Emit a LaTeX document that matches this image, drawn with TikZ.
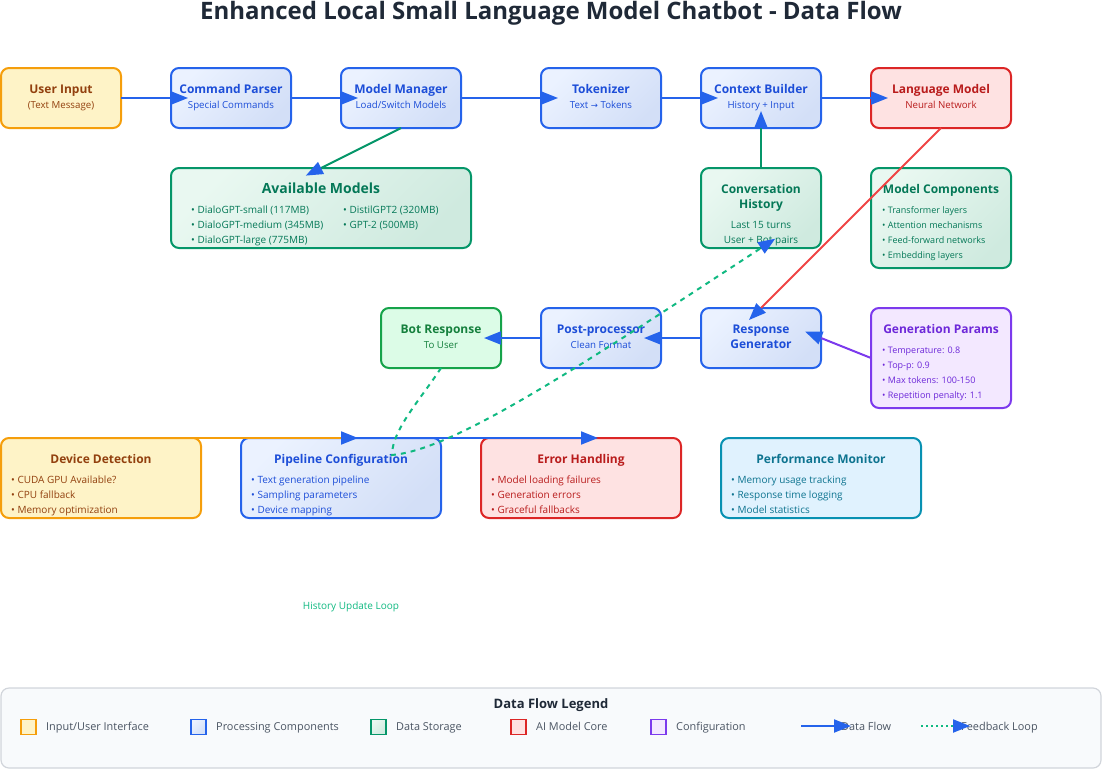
\documentclass[tikz,border=0pt]{standalone}
\usepackage{fontspec}
\setmainfont{Open Sans}
\newfontfamily\symf{DejaVu Sans}
\usetikzlibrary{arrows.meta,calc}
\definecolor{titlec}{HTML}{1F2937}
\definecolor{arrowblue}{HTML}{2563EB}
\definecolor{procS}{HTML}{2563EB}
\definecolor{procA}{HTML}{EBF2FF}
\definecolor{procB}{HTML}{D3DFF7}
\definecolor{procT}{HTML}{1D4ED8}
\definecolor{inS}{HTML}{F59E0B}
\definecolor{inF}{HTML}{FEF3C7}
\definecolor{inT}{HTML}{92400E}
\definecolor{aiS}{HTML}{DC2626}
\definecolor{aiL}{HTML}{EF4444}
\definecolor{aiF}{HTML}{FEE2E2}
\definecolor{aiT}{HTML}{B91C1C}
\definecolor{stS}{HTML}{059669}
\definecolor{stA}{HTML}{E9F8F1}
\definecolor{stB}{HTML}{CFEADF}
\definecolor{stT}{HTML}{047857}
\definecolor{outS}{HTML}{16A34A}
\definecolor{outF}{HTML}{DCFCE7}
\definecolor{outT}{HTML}{15803D}
\definecolor{cfS}{HTML}{7C3AED}
\definecolor{cfF}{HTML}{F3E8FF}
\definecolor{cfT}{HTML}{6D28D9}
\definecolor{pmS}{HTML}{0891B2}
\definecolor{pmF}{HTML}{E0F2FE}
\definecolor{pmT}{HTML}{0E7490}
\definecolor{fbC}{HTML}{10B981}
\definecolor{lgF}{HTML}{F8FAFC}
\definecolor{lgS}{HTML}{D1D5DB}
\definecolor{lgT}{HTML}{4B5563}
\newcommand{\myfs}[1]{\fontsize{#1}{#1}\selectfont}
\begin{document}
\begin{tikzpicture}[x=1pt,y=-1pt,
  box/.style={draw, rounded corners=8pt, line width=2pt, outer sep=0pt, inner sep=0pt},
  procbox/.style={box, draw=procS, top color=procA, bottom color=procB, shading angle=45},
  inbox/.style={box, draw=inS, fill=inF},
  aibox/.style={box, draw=aiS, fill=aiF},
  stbox/.style={box, draw=stS, top color=stA, bottom color=stB, shading angle=45},
  outbox/.style={box, draw=outS, fill=outF},
  cfbox/.style={box, draw=cfS, fill=cfF},
  pmbox/.style={box, draw=pmS, fill=pmF},
  ttl/.style={anchor=base, inner sep=0pt, font=\myfs{12}\bfseries},
  sub/.style={anchor=base, inner sep=0pt, font=\myfs{9.7}},
  bul/.style={anchor=base west, inner sep=0pt, font=\myfs{10}},
  sbul/.style={anchor=base west, inner sep=0pt, font=\myfs{9}},
  flow/.style={draw=arrowblue, line width=2pt, -{Triangle[length=17pt,width=13pt,color=arrowblue]}},
  fback/.style={draw=fbC, line width=2pt, dash pattern=on 5pt off 5pt, -{Triangle[length=17pt,width=13pt,color=arrowblue]}},
  lgsq/.style={draw, line width=1.2pt, minimum width=15, minimum height=15, inner sep=0pt, outer sep=0pt},
  lgtx/.style={anchor=base west, inner sep=0pt, font=\myfs{10.9}, text=lgT}
]
\useasboundingbox (0,0) rectangle (1102,769);

% title
\node[anchor=base, inner sep=0pt, font=\myfs{24}\bfseries, text=titlec] (title) at (551,19) {Enhanced Local Small Language Model Chatbot - Data Flow};

% top row
\node[inbox, minimum width=120, minimum height=60] (ui) at (61,98) {};
\node[ttl, text=inT] (ui-t) at (61,93) {User Input};
\node[sub, text=inT] (ui-s) at (61,108) {(Text Message)};

\node[procbox, minimum width=120, minimum height=60] (cp) at (231,98) {};
\node[ttl, text=procT] (cp-t) at (231,93) {Command Parser};
\node[sub, text=procT] (cp-s) at (231,108) {Special Commands};

\node[procbox, minimum width=120, minimum height=60] (mm) at (401,98) {};
\node[ttl, text=procT] (mm-t) at (401,93) {Model Manager};
\node[sub, text=procT] (mm-s) at (401,108) {Load/Switch Models};

\node[procbox, minimum width=120, minimum height=60] (tk) at (601,98) {};
\node[ttl, text=procT] (tk-t) at (601,93) {Tokenizer};
\node[sub, text=procT] (tk-s) at (601,108) {Text {\symf\myfs{8.5}→} Tokens};

\node[procbox, minimum width=120, minimum height=60] (cb) at (761,98) {};
\node[ttl, text=procT] (cb-t) at (761,93) {Context Builder};
\node[sub, text=procT] (cb-s) at (761,108) {History + Input};

\node[aibox, minimum width=140, minimum height=60] (lm) at (941,98) {};
\node[ttl, text=aiT] (lm-t) at (941,93) {Language Model};
\node[sub, text=aiT] (lm-s) at (941,108) {Neural Network};

% second row
\node[stbox, minimum width=300, minimum height=80] (am) at (321,208) {};
\node[ttl, font=\myfs{14}\bfseries, text=stT] (am-t) at (321,193) {Available Models};
\node[bul, text=stT] (am-1) at (191,213) {• DialoGPT-small (117MB)};
\node[bul, text=stT] (am-2) at (191,228) {• DialoGPT-medium (345MB)};
\node[bul, text=stT] (am-3) at (191,243) {• DialoGPT-large (775MB)};
\node[bul, text=stT] (am-4) at (343,213) {• DistilGPT2 (320MB)};
\node[bul, text=stT] (am-5) at (343,228) {• GPT-2 (500MB)};

\node[stbox, minimum width=120, minimum height=80] (ch) at (761,208) {};
\node[ttl, text=stT] (ch-t1) at (761,193) {Conversation};
\node[ttl, text=stT] (ch-t2) at (761,208) {History};
\node[sub, font=\myfs{10}, text=stT] (ch-s1) at (761,228) {Last 15 turns};
\node[sub, font=\myfs{10}, text=stT] (ch-s2) at (761,243) {User + Bot pairs};

\node[stbox, minimum width=140, minimum height=100] (mc) at (941,218) {};
\node[ttl, text=stT] (mc-t) at (941,193) {Model Components};
\node[sbul, text=stT] (mc-1) at (882,213) {• Transformer layers};
\node[sbul, text=stT] (mc-2) at (882,228) {• Attention mechanisms};
\node[sbul, text=stT] (mc-3) at (882,243) {• Feed-forward networks};
\node[sbul, text=stT] (mc-4) at (882,258) {• Embedding layers};

% third row
\node[outbox, minimum width=120, minimum height=60] (br) at (441,338) {};
\node[ttl, text=outT] (br-t) at (441,333) {Bot Response};
\node[sub, text=outT] (br-s) at (441,348) {To User};

\node[procbox, minimum width=120, minimum height=60] (pp) at (601,338) {};
\node[ttl, text=procT] (pp-t) at (601,333) {Post-processor};
\node[sub, text=procT] (pp-s) at (601,348) {Clean Format};

\node[procbox, minimum width=120, minimum height=60] (rg) at (761,338) {};
\node[ttl, text=procT] (rg-t1) at (761,333) {Response};
\node[ttl, text=procT] (rg-t2) at (761,348) {Generator};

\node[cfbox, minimum width=140, minimum height=100] (gp) at (941,358) {};
\node[ttl, text=cfT] (gp-t) at (941,333) {Generation Params};
\node[sbul, text=cfT] (gp-1) at (882,353) {• Temperature: 0.8};
\node[sbul, text=cfT] (gp-2) at (882,368) {• Top-p: 0.9};
\node[sbul, text=cfT] (gp-3) at (882,383) {• Max tokens: 100-150};
\node[sbul, text=cfT] (gp-4) at (882,398) {• Repetition penalty: 1.1};

% bottom row
\node[inbox, minimum width=200, minimum height=80] (dd) at (101,478) {};
\node[ttl, text=inT] (dd-t) at (101,463) {Device Detection};
\node[bul, text=inT] (dd-1) at (11,483) {• CUDA GPU Available?};
\node[bul, text=inT] (dd-2) at (11,498) {• CPU fallback};
\node[bul, text=inT] (dd-3) at (11,513) {• Memory optimization};

\node[procbox, minimum width=200, minimum height=80] (pc) at (341,478) {};
\node[ttl, text=procT] (pc-t) at (341,463) {Pipeline Configuration};
\node[bul, text=procT] (pc-1) at (251,483) {• Text generation pipeline};
\node[bul, text=procT] (pc-2) at (251,498) {• Sampling parameters};
\node[bul, text=procT] (pc-3) at (251,513) {• Device mapping};

\node[aibox, minimum width=200, minimum height=80] (eh) at (581,478) {};
\node[ttl, text=aiT] (eh-t) at (581,463) {Error Handling};
\node[bul, text=aiT] (eh-1) at (491,483) {• Model loading failures};
\node[bul, text=aiT] (eh-2) at (491,498) {• Generation errors};
\node[bul, text=aiT] (eh-3) at (491,513) {• Graceful fallbacks};

\node[pmbox, minimum width=200, minimum height=80] (pm) at (821,478) {};
\node[ttl, text=pmT] (pm-t) at (821,463) {Performance Monitor};
\node[bul, text=pmT] (pm-1) at (731,483) {• Memory usage tracking};
\node[bul, text=pmT] (pm-2) at (731,498) {• Response time logging};
\node[bul, text=pmT] (pm-3) at (731,513) {• Model statistics};

% loop label
\node[anchor=base, inner sep=0pt, font=\myfs{10}, text=fbC] (hul) at (351,609) {History Update Loop};

% connectors
\draw[flow] (ui.east) -- ([xshift=17pt]cp.west);
\draw[flow] (cp.east) -- ([xshift=17pt]mm.west);
\draw[flow] (mm.east) -- ([xshift=17pt]tk.west);
\draw[flow] (tk.east) -- ([xshift=17pt]cb.west);
\draw[flow] (cb.east) -- ([xshift=17pt]lm.west);
\draw[flow, draw=stS] (mm.south) -- ($(am.north)!-17pt!(mm.south)$);
\draw[flow, draw=stS] (ch.north) -- ([yshift=17pt]cb.south);
\draw[flow, draw=aiL] (lm.south) -- ($(rg.north)!-17pt!(lm.south)$);
\draw[flow, draw=cfS] (gp.west) -- ($(rg.east)!-17pt!(gp.west)$);
\draw[flow] (rg.west) -- ([xshift=-17pt]pp.east);
\draw[flow] (pp.west) -- ([xshift=-17pt]br.east);
\draw[flow, draw=inS] (dd.north) -- ([xshift=17pt]pc.north);
\draw[flow] (pc.north) -- ([xshift=17pt]eh.north);
\coordinate (fbturn) at (392,455);
\coordinate (fbc) at (560,380);
\draw[fback] (br.south) .. controls (420,400) and (392,430) .. (fbturn)
   .. controls (450,450) and (fbc) .. (ch.south) -- ($(ch.south)!-17pt!(fbc)$);

% legend
\node[draw=lgS, fill=lgF, line width=1.2pt, rounded corners=8pt, minimum width=1100, minimum height=80, inner sep=0pt, outer sep=0pt] (lg) at (551,728) {};
\node[anchor=base, inner sep=0pt, font=\myfs{13}\bfseries, text=titlec] (lg-t) at (551,708) {Data Flow Legend};
\node[lgsq, draw=inS, fill=inF] (lg-s1) at (28.5,727) {};
\node[lgtx] (lg-x1) at (46,730.5) {Input/User Interface};
\node[lgsq, draw=procS, top color=procA, bottom color=procB, shading angle=45] (lg-s2) at (198.5,727) {};
\node[lgtx] (lg-x2) at (216,730.5) {Processing Components};
\node[lgsq, draw=stS, top color=stA, bottom color=stB, shading angle=45] (lg-s3) at (378.5,727) {};
\node[lgtx] (lg-x3) at (396,730.5) {Data Storage};
\node[lgsq, draw=aiS, fill=aiF] (lg-s4) at (518.5,727) {};
\node[lgtx] (lg-x4) at (536,730.5) {AI Model Core};
\node[lgsq, draw=cfS, fill=cfF] (lg-s5) at (658.5,727) {};
\node[lgtx] (lg-x5) at (676,730.5) {Configuration};
\node[lgtx] (lg-x6) at (841,730.5) {Data Flow};
\node[lgtx] (lg-x7) at (961,730.5) {Feedback Loop};
\coordinate (lgd1) at (801,726);
\coordinate (lgd2) at (851,726);
\draw[flow] (lgd1) -- (lgd2);
\coordinate (lgf1) at (921,726);
\coordinate (lgf2) at (970,726);
\draw[draw=fbC, line width=2pt, dash pattern=on 2pt off 3pt, -{Triangle[length=17pt,width=13pt,color=arrowblue]}] (lgf1) -- (lgf2);
\end{tikzpicture}
\end{document}
